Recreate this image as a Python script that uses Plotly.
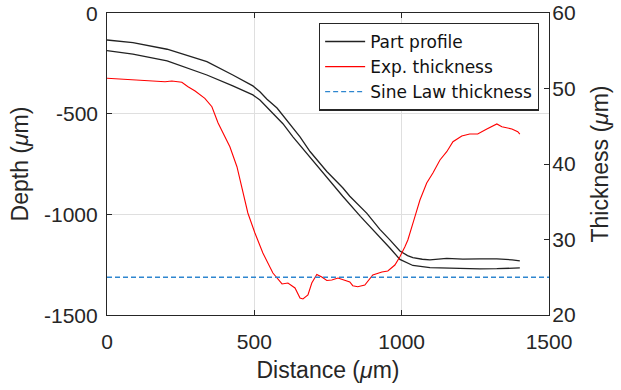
import plotly.graph_objects as go

# Part profile (upper surface), depth in µm
top_x = [0, 88, 204, 339, 427, 495, 519, 543, 577, 597, 631, 655, 689, 722, 746, 800, 824,
         882, 926, 960, 994, 1020, 1038, 1070, 1096, 1153, 1208, 1265, 1323, 1375, 1401]
top_depth = [-134, -147, -180, -242, -308, -362, -391, -428, -472, -510, -575, -615, -688,
             -745, -787, -868, -910, -995, -1075, -1127, -1182, -1205, -1215, -1223, -1226,
             -1219, -1222, -1221, -1221, -1226, -1231]

# Part profile (lower surface)
bot_x = [0, 88, 204, 339, 427, 495, 519, 543, 577, 597, 631, 689, 746, 800, 860, 926, 960,
         994, 1038, 1096, 1150, 1208, 1265, 1323, 1401]
bot_depth = [-187, -204, -238, -308, -362, -407, -432, -467, -521, -550, -615, -718, -815,
             -910, -1010, -1112, -1167, -1224, -1254, -1265, -1268, -1271, -1271, -1270, -1266]

# Experimental thickness (µm)
exp_x = [0, 61, 129, 197, 220, 254, 275, 299, 332, 356, 377, 393, 417, 441, 461, 478, 502,
         529, 563, 594, 614, 638, 655, 665, 682, 695, 712, 729, 746, 763, 784, 807, 824, 834,
         851, 875, 902, 933, 953, 977, 994, 1011, 1021, 1045, 1062, 1085, 1106, 1130, 1153,
         1174, 1204, 1231, 1258, 1289, 1323, 1340, 1374, 1394, 1401]
exp_thickness = [51.35, 51.22, 50.99, 50.90, 50.99, 50.82, 50.24, 49.67, 48.70, 47.59, 45.43,
                 44.11, 42.29, 39.64, 36.16, 33.51, 30.86, 28.21, 25.56, 24.11, 24.24, 23.58,
                 22.25, 22.12, 22.65, 24.24, 25.36, 25.03, 24.57, 24.64, 24.90, 24.64, 24.37,
                 23.88, 23.75, 23.97, 25.30, 25.70, 25.83, 26.62, 27.72, 29.05, 29.93, 33.02,
                 35.23, 37.48, 38.81, 40.53, 41.63, 42.95, 43.71, 43.97, 43.97, 44.64, 45.30,
                 44.94, 44.64, 44.28, 43.97]

# Sine law thickness
sine_x = [0, 1500]
sine_thickness = [25, 25]

x_ticks = [0, 500, 1000, 1500]
x_labels = ["0", "500", "1000", "1500"]
depth_ticks = [0, -500, -1000, -1500]
depth_labels = ["0", "-500", "-1000", "-1500"]
thick_ticks = [20, 30, 40, 50, 60]
thick_labels = ["20", "30", "40", "50", "60"]

FONT = "Liberation Sans, Arial, sans-serif"
AX = "#262626"

fig = go.Figure()
fig.add_trace(go.Scatter(x=top_x, y=top_depth, mode="lines", name="Part profile",
                         line=dict(color="#222222", width=1.3), legendgroup="p"))
fig.add_trace(go.Scatter(x=bot_x, y=bot_depth, mode="lines", name="Part profile",
                         line=dict(color="#222222", width=1.3), legendgroup="p",
                         showlegend=False))
fig.add_trace(go.Scatter(x=exp_x, y=exp_thickness, mode="lines", name="Exp. thickness",
                         line=dict(color="#ff0000", width=1.1), yaxis="y2"))
fig.add_trace(go.Scatter(x=sine_x, y=sine_thickness, mode="lines", name="Sine Law thickness",
                         line=dict(color="#2e86cf", width=1.3, dash="5px,3px"), yaxis="y2"))

# left-axis tick labels placed on the depth scale
for v, t in zip(depth_ticks, depth_labels):
    fig.add_annotation(x=0, xref="paper", y=v, yref="y", text=t, showarrow=False,
                       xanchor="right", yanchor="middle", xshift=-7,
                       font=dict(family=FONT, size=21, color=AX))

fig.update_layout(
    width=621, height=390,
    margin=dict(l=107, r=72, t=13, b=75, autoexpand=False),
    paper_bgcolor="white", plot_bgcolor="white",
    font=dict(family=FONT, size=21, color=AX),
    showlegend=True,
    legend=dict(x=0.977, y=0.968, xanchor="right", yanchor="top",
                bgcolor="white", bordercolor=AX, borderwidth=1.3,
                font=dict(family="DejaVu Sans, sans-serif", size=17, color="#111111"),
                tracegroupgap=0, itemwidth=40),
    xaxis=dict(range=[0, 1500], tickvals=x_ticks, ticktext=x_labels, ticks="inside",
               ticklen=5, tickcolor=AX, showline=True, linecolor=AX, linewidth=1.2,
               mirror="ticks", showgrid=True, gridcolor="#dfdfdf", gridwidth=1,
               zeroline=False, tickfont=dict(size=21), automargin=False,
               ticklabelstandoff=8, ticklabeloverflow="allow",
               title=dict(text="Distance (<i>μ</i>m)", font=dict(size=23), standoff=9)),
    yaxis=dict(range=[-1500, 0], tickvals=depth_ticks, showticklabels=False,
               ticks="inside", ticklen=5, tickcolor=AX, showline=True, linecolor=AX,
               linewidth=1.2, showgrid=True, gridcolor="#dfdfdf", gridwidth=1,
               zeroline=False, automargin=False,
               title=dict(text="Depth (<i>μ</i>m)", font=dict(size=23), standoff=70)),
    yaxis2=dict(range=[20, 60], tickvals=thick_ticks, ticktext=thick_labels,
                ticks="inside", ticklen=5, tickcolor=AX, showline=True, linecolor=AX,
                linewidth=1.2, overlaying="y", side="right", showgrid=False,
                zeroline=False, tickfont=dict(size=21), automargin=False,
                ticklabelstandoff=-2, ticklabeloverflow="allow",
                title=dict(text="Thickness (<i>μ</i>m)", font=dict(size=23), standoff=17)),
)

fig.write_html("out.html",
               config={"displayModeBar": False},
               post_script="document.body.style.margin='0px';"
                           "document.body.style.overflow='hidden';")
